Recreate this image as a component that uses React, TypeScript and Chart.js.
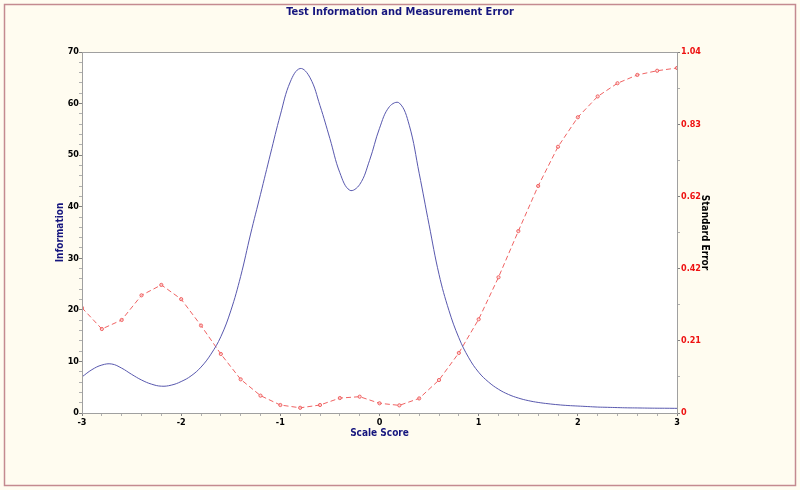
import React, { useEffect, useRef } from "react";
import { Chart, registerables } from "chart.js";

Chart.register(...registerables);

// ---- Data ----
const infoScores = [
  -3.0, -2.9, -2.8, -2.7, -2.6, -2.5, -2.4, -2.3, -2.2, -2.1,
  -2.0, -1.9, -1.8, -1.7, -1.6, -1.5, -1.4, -1.3, -1.2, -1.1,
  -1.0, -0.9, -0.8, -0.7, -0.6, -0.5, -0.4, -0.3, -0.2, -0.1,
  0.0, 0.1, 0.2, 0.3, 0.4, 0.5, 0.6, 0.7, 0.8, 0.9,
  1.0, 1.1, 1.2, 1.3, 1.4, 1.5, 1.6, 1.7, 1.8, 1.9,
  2.0, 2.1, 2.2, 2.3, 2.4, 2.5, 2.6, 2.7, 2.8, 2.9, 3.0,
];
const infoValues = [
  7.0, 8.4, 9.3, 9.5, 8.7, 7.5, 6.4, 5.6, 5.2, 5.4,
  6.1, 7.2, 8.9, 11.4, 14.8, 19.8, 26.5, 34.7, 42.4, 50.2,
  57.8, 64.2, 66.8, 65.0, 59.6, 53.2, 46.6, 43.2, 44.3, 49.0,
  55.2, 59.4, 60.1, 55.8, 46.5, 36.5, 26.9, 19.9, 14.6, 10.7,
  7.9, 6.0, 4.6, 3.6, 2.9, 2.4, 2.05, 1.8, 1.6, 1.45,
  1.35, 1.25, 1.15, 1.1, 1.05, 1.0, 0.98, 0.95, 0.93, 0.92, 0.9,
];

const seScores = [
  -3.0, -2.8, -2.6, -2.4, -2.2, -2.0, -1.8, -1.6, -1.4, -1.2,
  -1.0, -0.8, -0.6, -0.4, -0.2, 0.0, 0.2, 0.4, 0.6, 0.8,
  1.0, 1.2, 1.4, 1.6, 1.8, 2.0, 2.2, 2.4, 2.6, 2.8, 3.0,
];
const seValues = [
  0.303, 0.242, 0.268, 0.339, 0.369, 0.328, 0.252, 0.170, 0.097, 0.050,
  0.023, 0.015, 0.023, 0.043, 0.047, 0.028, 0.022, 0.042, 0.095, 0.173,
  0.270, 0.391, 0.524, 0.654, 0.767, 0.852, 0.912, 0.950, 0.974, 0.986, 0.994,
];

// ---- Ticks ----
const xTickValues = [
  -3.0, -2.8, -2.6, -2.4, -2.2, -2.0, -1.8, -1.6, -1.4, -1.2,
  -1.0, -0.8, -0.6, -0.4, -0.2, 0.0, 0.2, 0.4, 0.6, 0.8,
  1.0, 1.2, 1.4, 1.6, 1.8, 2.0, 2.2, 2.4, 2.6, 2.8, 3.0,
];
const xTickLabels = ["-3", "-2", "-1", "0", "1", "2", "3"];

const infoTickValues = [
  0, 2, 4, 6, 8, 10, 12, 14, 16, 18, 20, 22, 24, 26, 28, 30, 32, 34,
  36, 38, 40, 42, 44, 46, 48, 50, 52, 54, 56, 58, 60, 62, 64, 66, 68, 70,
];
const infoTickLabels = ["0", "10", "20", "30", "40", "50", "60", "70"];

const seTickValues = [0, 0.104, 0.208, 0.312, 0.416, 0.52, 0.624, 0.728, 0.832, 0.936, 1.04];
const seTickLabels = ["0", "0.21", "0.42", "0.62", "0.83", "1.04"];

const NAVY = "#16167e";
const FONT = "'Liberation Sans Narrow', 'DejaVu Sans Condensed', 'Arial Narrow', 'Liberation Sans', sans-serif";

const framePlugin = {
  id: "frame",
  beforeDraw(chart: any) {
    const { ctx, width, height, chartArea } = chart;
    ctx.save();
    ctx.fillStyle = "#fffcf0";
    ctx.fillRect(0, 0, width, height);
    ctx.strokeStyle = "#c48a90";
    ctx.lineWidth = 1.5;
    ctx.strokeRect(4.5, 4.5, width - 9, height - 9);
    ctx.fillStyle = "#ffffff";
    ctx.fillRect(chartArea.left, chartArea.top, chartArea.right - chartArea.left, chartArea.bottom - chartArea.top);
    ctx.restore();
  },
  afterDraw(chart: any) {
    const { ctx, chartArea } = chart;
    ctx.save();
    ctx.strokeStyle = "#a0a0a0";
    ctx.lineWidth = 1;
    ctx.strokeRect(
      Math.round(chartArea.left) + 0.5,
      Math.round(chartArea.top) + 0.5,
      Math.round(chartArea.right - chartArea.left),
      Math.round(chartArea.bottom - chartArea.top)
    );
    ctx.restore();
  },
};

export default function App() {
  const ref = useRef<HTMLCanvasElement | null>(null);

  useEffect(() => {
    if (!ref.current) return;
    Chart.defaults.font.family = FONT;
    const tickFont = { family: FONT, size: 9, weight: "bold" as const };
    const titleFont = { family: FONT, size: 10, weight: "bold" as const };

    const chart = new Chart(ref.current, {
      type: "line",
      data: {
        datasets: [
          {
            label: "Information",
            data: infoScores.map((x, i) => ({ x, y: infoValues[i] })),
            yAxisID: "y",
            borderColor: "#5858ae",
            borderWidth: 1,
            pointRadius: 0,
            tension: 0.4,
            fill: false,
          },
          {
            label: "Standard Error",
            data: seScores.map((x, i) => ({ x, y: seValues[i] })),
            yAxisID: "y1",
            borderColor: "#f06464",
            borderWidth: 1,
            borderDash: [5, 3],
            pointRadius: 1.6,
            pointBorderWidth: 1,
            pointBorderColor: "#f06464",
            pointBackgroundColor: "rgba(255,200,200,0.6)",
            tension: 0,
            fill: false,
          },
        ],
      },
      options: {
        animation: false,
        responsive: false,
        devicePixelRatio: 1,
        layout: { padding: 0 },
        plugins: {
          legend: { display: false },
          tooltip: { enabled: false },
          title: {
            display: true,
            text: "Test Information and Measurement Error",
            color: NAVY,
            font: { family: FONT, size: 11, weight: "bold" },
            padding: { top: 6, bottom: 32.8 },
          },
        },
        scales: {
          x: {
            type: "linear",
            position: "bottom",
            min: -3,
            max: 3,
            afterBuildTicks: (s: any) => {
              s.ticks = xTickValues.map((v) => ({ value: v }));
            },
            afterFit: (s: any) => {
              s.height = 77;
            },
            ticks: {
              autoSkip: false,
              maxRotation: 0,
              padding: 1,
              color: "#000",
              font: tickFont,
              callback: (_v: any, i: number) => (i % 5 === 0 ? xTickLabels[i / 5] : ""),
            },
            grid: {
              drawOnChartArea: false,
              tickLength: 3,
              tickColor: (c: any) => (c.index % 5 === 0 ? "#808080" : "#b0b0b0"),
            },
            border: { color: "#a0a0a0" },
            title: {
              display: true,
              text: "Scale Score",
              color: NAVY,
              font: titleFont,
              padding: { top: 0, bottom: 51 },
            },
          },
          y: {
            type: "linear",
            position: "left",
            min: 0,
            max: 70,
            afterBuildTicks: (s: any) => {
              s.ticks = infoTickValues.map((v) => ({ value: v }));
            },
            afterFit: (s: any) => {
              s.width = 82;
            },
            ticks: {
              autoSkip: false,
              padding: 0,
              color: "#000",
              font: tickFont,
              callback: (_v: any, i: number) => (i % 5 === 0 ? infoTickLabels[i / 5] : ""),
            },
            grid: {
              drawOnChartArea: false,
              tickLength: 3,
              tickColor: (c: any) => (c.index % 5 === 0 ? "#808080" : "#b0b0b0"),
            },
            border: { color: "#a0a0a0" },
            title: {
              display: true,
              text: "Information",
              color: NAVY,
              font: titleFont,
              padding: { top: 54, bottom: 0 },
            },
          },
          y1: {
            type: "linear",
            position: "right",
            min: 0,
            max: 1.04,
            afterBuildTicks: (s: any) => {
              s.ticks = seTickValues.map((v) => ({ value: v }));
            },
            afterFit: (s: any) => {
              s.width = 123;
            },
            ticks: {
              autoSkip: false,
              padding: 1,
              color: "#ee1111",
              font: tickFont,
              callback: (_v: any, i: number) => (i % 2 === 0 ? seTickLabels[i / 2] : ""),
            },
            grid: {
              drawOnChartArea: false,
              tickLength: 3,
              tickColor: (c: any) => (c.index % 2 === 0 ? "#808080" : "#b0b0b0"),
            },
            border: { color: "#a0a0a0" },
            title: {
              display: true,
              text: "Standard Error",
              color: "#000",
              font: titleFont,
              padding: { top: 89, bottom: 0 },
            },
          },
        },
      },
      plugins: [framePlugin],
    } as any);

    return () => chart.destroy();
  }, []);

  return (
    <div style={{ position: "fixed", left: 0, top: 0, width: 800, height: 490 }}>
      <canvas ref={ref} width={800} height={490} style={{ display: "block", width: 800, height: 490 }} />
    </div>
  );
}
